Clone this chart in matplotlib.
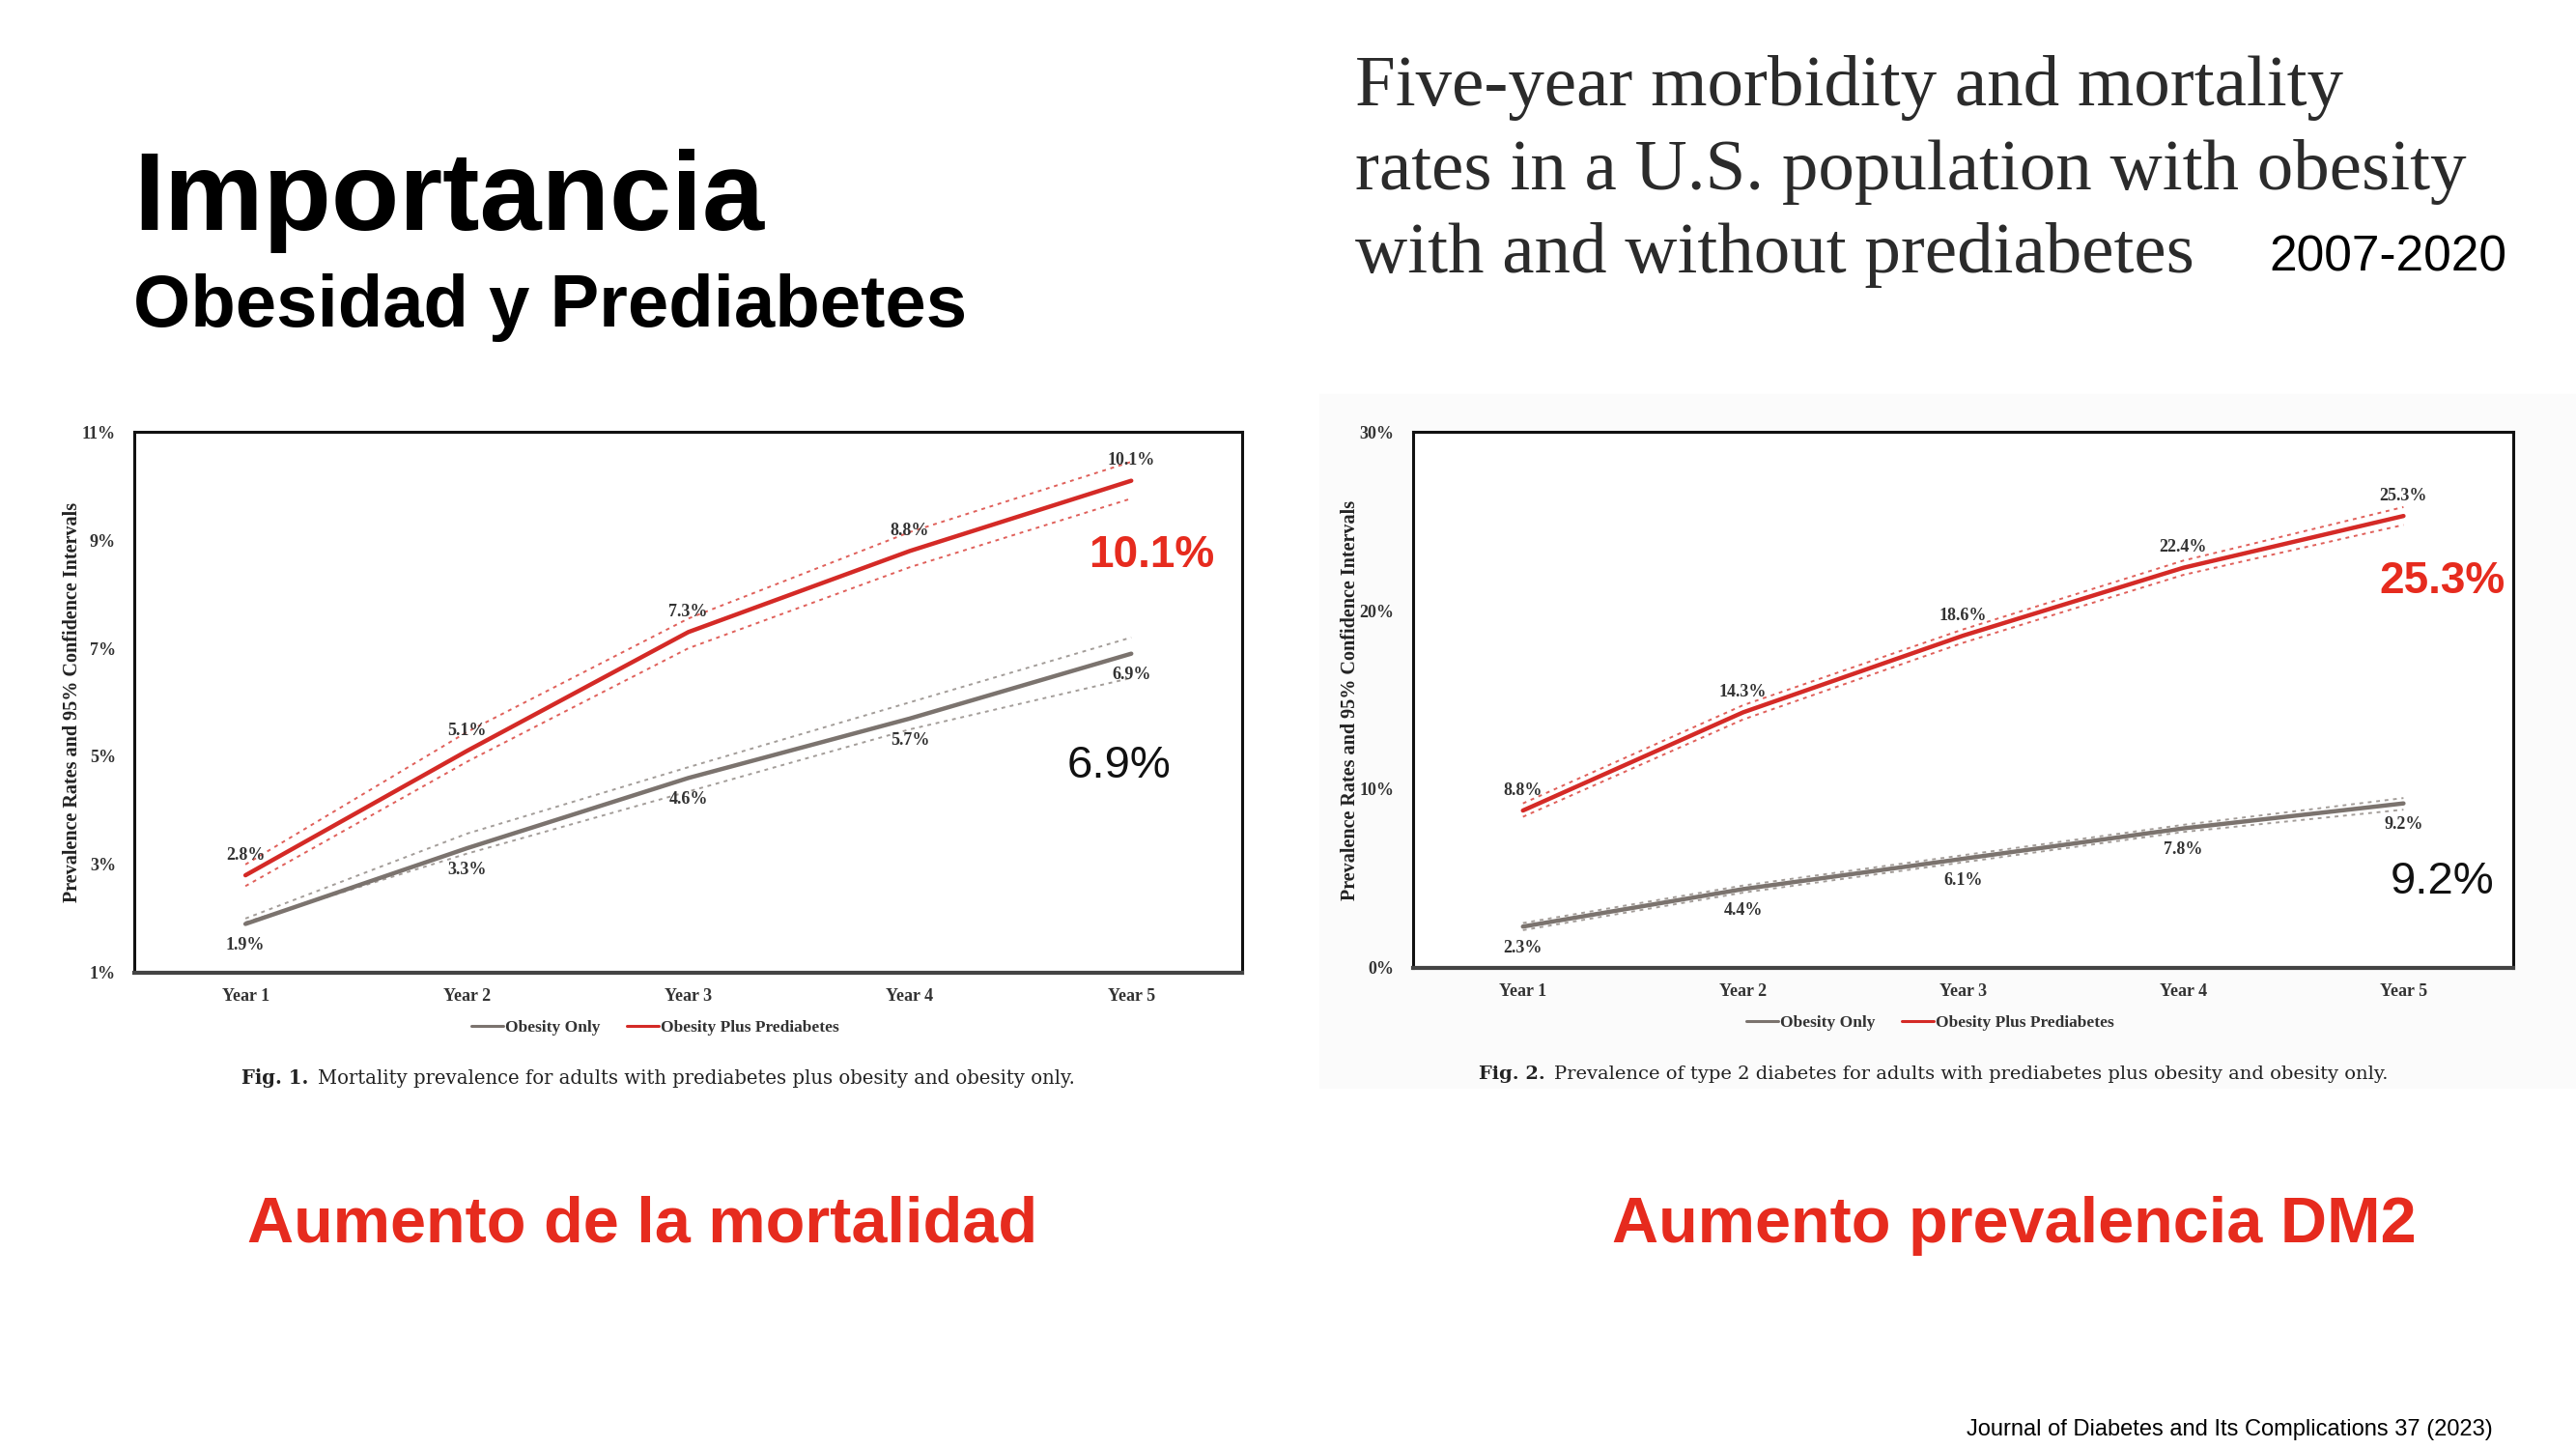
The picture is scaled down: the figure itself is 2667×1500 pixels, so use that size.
import matplotlib
matplotlib.use("Agg")
import matplotlib.pyplot as plt
import numpy as np

# ---------------- data ----------------
years = ["Year 1", "Year 2", "Year 3", "Year 4", "Year 5"]

# Fig. 1 mortality prevalence (%)
mort_plus = [2.8, 5.1, 7.3, 8.8, 10.1]
mort_plus_hi = [3.0, 5.45, 7.55, 9.15, 10.45]
mort_plus_lo = [2.6, 4.9, 7.0, 8.5, 9.77]
mort_only = [1.9, 3.3, 4.6, 5.7, 6.9]
mort_only_hi = [2.0, 3.57, 4.8, 6.0, 7.2]
mort_only_lo = [1.93, 3.2, 4.35, 5.5, 6.45]
mort_ticks = [1, 3, 5, 7, 9, 11]

# Fig. 2 type 2 diabetes prevalence (%)
dm_plus = [8.8, 14.3, 18.6, 22.4, 25.3]
dm_plus_hi = [9.2, 14.7, 18.95, 22.8, 25.8]
dm_plus_lo = [8.45, 13.9, 18.2, 22.0, 24.8]
dm_only = [2.3, 4.4, 6.1, 7.8, 9.2]
dm_only_hi = [2.5, 4.6, 6.3, 8.0, 9.5]
dm_only_lo = [2.1, 4.2, 5.9, 7.6, 8.85]
dm_ticks = [0, 10, 20, 30]

legend_labels = ["Obesity Only", "Obesity Plus Prediabetes"]

RED = "#d42a26"
GREY = "#7b736e"
RED_CI = "#e0605a"
GREY_CI = "#a39d99"
BIG_RED = "#e62b1e"
SERIF = ["Liberation Serif", "DejaVu Serif"]
CAP_SERIF = ["DejaVu Serif"]
SANS = ["Liberation Sans", "DejaVu Sans"]

W, H = 1568.0, 882.0
def fx(x):
    return x / W
def fy(y):
    return 1 - y / H

fig = plt.figure(figsize=(26.67, 15), dpi=100)
fig.patch.set_facecolor("white")

# faint background of the right figure image
bg = plt.Rectangle((fx(803), fy(662)), fx(1568) - fx(803), fy(240) - fy(662),
                   transform=fig.transFigure, color="#fbfbfb", zorder=-5)
fig.patches.append(bg)


def draw_panel(rect, plus, plus_hi, plus_lo, only, only_hi, only_lo, ticks, ylab_x,
               big_plus, big_only, big_plus_xy, big_only_xy):
    ax = fig.add_axes(rect)
    ax.set_facecolor("white")
    x = np.arange(1, len(years) + 1)
    ax.plot(x, only_hi, color=GREY_CI, lw=1.4, ls=(0, (2, 2.5)))
    ax.plot(x, only_lo, color=GREY_CI, lw=1.4, ls=(0, (2, 2.5)))
    ax.plot(x, plus_hi, color=RED_CI, lw=1.4, ls=(0, (2, 2.5)))
    ax.plot(x, plus_lo, color=RED_CI, lw=1.4, ls=(0, (2, 2.5)))
    l1, = ax.plot(x, only, color=GREY, lw=3.2, solid_capstyle="round")
    l2, = ax.plot(x, plus, color=RED, lw=3.2, solid_capstyle="round")
    for xi, v in zip(x, plus):
        ax.annotate(f"{v:.1f}%", (xi, v), xytext=(0, 15), textcoords="offset points",
                    ha="center", va="center", fontsize=13, fontweight="bold",
                    family=SERIF, color="#333333")
    for xi, v in zip(x, only):
        ax.annotate(f"{v:.1f}%", (xi, v), xytext=(0, -16), textcoords="offset points",
                    ha="center", va="center", fontsize=13, fontweight="bold",
                    family=SERIF, color="#333333")
    ax.set_xlim(0.5, 5.5)
    ax.set_ylim(ticks[0], ticks[-1])
    ax.set_yticks(ticks)
    ax.set_yticklabels([f"{t}%" for t in ticks], family=SERIF, fontweight="bold",
                       fontsize=13, color="#333333")
    ax.set_xticks(x)
    ax.set_xticklabels(years, family=SERIF, fontweight="bold", fontsize=13, color="#333333")
    ax.tick_params(length=0, pad=12)
    ax.tick_params(axis="y", pad=14)
    for s in ax.spines.values():
        s.set_color("#111111")
        s.set_linewidth(2.2)
    ax.spines["bottom"].set_linewidth(3.0)
    ax.spines["bottom"].set_color("#444444")
    fig.text(ylab_x, rect[1] + rect[3] / 2, "Prevalence Rates and 95% Confidence Intervals",
             rotation=90, ha="center", va="center", family=SERIF, fontweight="bold",
             fontsize=14.5, color="#222222")
    leg = ax.legend([l1, l2], legend_labels, loc="upper center", bbox_to_anchor=(0.47, -0.06),
                    ncol=2, frameon=False, handlelength=1.9, handletextpad=0.1, columnspacing=1.6,
                    prop={"family": SERIF, "weight": "bold", "size": 12.5})
    for t in leg.get_texts():
        t.set_color("#333333")
    for h in leg.get_lines():
        h.set_linewidth(2.2)
    fig.text(fx(big_plus_xy[0]), fy(big_plus_xy[1]), big_plus, ha="right", va="center",
             family=SANS, fontsize=33, fontweight="bold", color=BIG_RED)
    fig.text(fx(big_only_xy[0]), fy(big_only_xy[1]), big_only, ha="right", va="center",
             family=SANS, fontsize=34, color="#111111")
    return ax


ax1 = draw_panel([fx(82), fy(592), fx(756) - fx(82), fy(263) - fy(592)],
                 mort_plus, mort_plus_hi, mort_plus_lo, mort_only, mort_only_hi, mort_only_lo,
                 mort_ticks, fx(44), "10.1%", "6.9%", (739, 338), (713, 466))
ax2 = draw_panel([fx(860), fy(589), fx(1530) - fx(860), fy(263) - fy(589)],
                 dm_plus, dm_plus_hi, dm_plus_lo, dm_only, dm_only_hi, dm_only_lo,
                 dm_ticks, fx(822), "25.3%", "9.2%", (1525, 354), (1518, 537))


# captions
def caption(x, y, num, rest, size):
    t = fig.text(fx(x), fy(y), num, ha="left", va="baseline", family=CAP_SERIF,
                 fontweight="bold", fontsize=size, color="#222222")
    a = ax1.annotate(rest, xy=(1, 0), xycoords=t, xytext=(7, 0), textcoords="offset points",
                     ha="left", va="bottom", family=CAP_SERIF, fontsize=size, color="#222222",
                     annotation_clip=False)
    return a

caption(147, 660, "Fig. 1.", "Mortality prevalence for adults with prediabetes plus obesity and obesity only.", 14.1)
caption(900, 657, "Fig. 2.", "Prevalence of type 2 diabetes for adults with prediabetes plus obesity and obesity only.", 14.0)

# headings
fig.text(fx(81), fy(140), "Importancia", ha="left", va="baseline", family=SANS,
         fontweight="bold", fontsize=83, color="black")
fig.text(fx(81), fy(199), "Obesidad y Prediabetes", ha="left", va="baseline", family=SANS,
         fontweight="bold", fontsize=54.8, color="black")

title_lines = ["Five-year morbidity and mortality",
               "rates in a U.S. population with obesity",
               "with and without prediabetes"]
for i, line in enumerate(title_lines):
    fig.text(fx(825), fy(64 + 51 * i), line, ha="left", va="baseline", family=SERIF,
             fontsize=54, color="#2b2b2b")
fig.text(fx(1526), fy(165), "2007-2020", ha="right", va="baseline", family=SANS,
         fontsize=37, color="black")

fig.text(fx(391), fy(746), "Aumento de la mortalidad", ha="center", va="center", family=SANS,
         fontweight="bold", fontsize=48, color=BIG_RED)
fig.text(fx(1226), fy(746), "Aumento prevalencia DM2", ha="center", va="center", family=SANS,
         fontweight="bold", fontsize=48, color=BIG_RED)
fig.text(fx(1517), fy(870), "Journal of Diabetes and Its Complications 37 (2023)", ha="right",
         va="center", family=SANS, fontsize=17, color="black")

fig.savefig("out.png", dpi=100, facecolor="white")
